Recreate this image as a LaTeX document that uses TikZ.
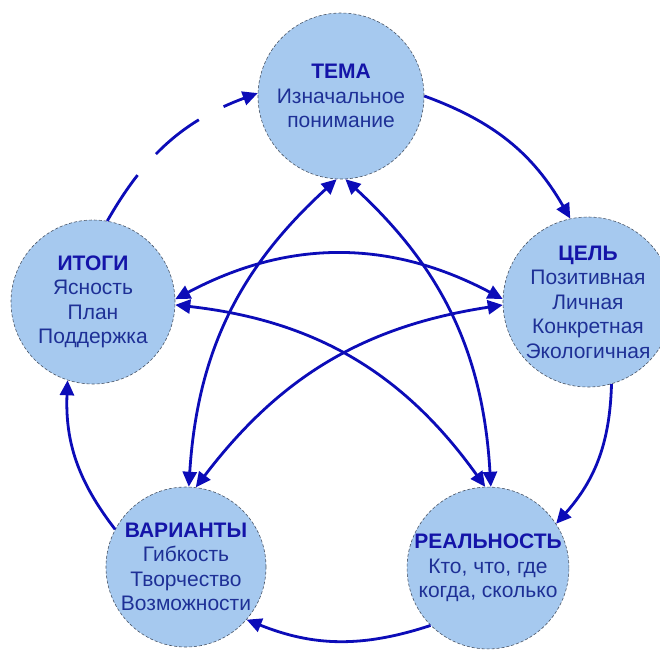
\documentclass[tikz,border=0pt]{standalone}
\usepackage{fontspec}
\setmainfont{Liberation Sans}
\usetikzlibrary{arrows.meta}
\definecolor{lineblue}{HTML}{0C0CB8}
\definecolor{headblue}{HTML}{1414A8}
\definecolor{bodyblue}{HTML}{1E3096}
\definecolor{bubfill}{HTML}{A6C9EF}
\definecolor{bubedge}{HTML}{4A5566}
\begin{document}
\begin{tikzpicture}[x=1pt,y=-1pt,
  bub/.style={circle, fill=bubfill, draw=bubedge, densely dashed, line width=0.6pt,
    inner sep=0pt, align=center, text=bodyblue, font=\fontsize{21}{24.5}\selectfont},
  tip/.tip={Triangle[length=15pt,width=14pt]},
  link/.style={draw=lineblue, line width=2.8pt, -tip},
  both/.style={draw=lineblue, line width=2.8pt, tip-tip}]
\useasboundingbox (0,0) rectangle (660,649);
\fill[white] (0,0) rectangle (660,649);

\node[bub, minimum size=166pt] (tema) at (341,96)
  {{\bfseries\color{headblue}ТЕМА}\\Изначальное\\понимание};
\node[bub, minimum size=170pt] (cel) at (588,302)
  {{\bfseries\color{headblue}ЦЕЛЬ}\\Позитивная\\Личная\\Конкретная\\Экологичная};
\node[bub, minimum size=164pt] (itogi) at (93,302)
  {{\bfseries\color{headblue}ИТОГИ}\\Ясность\\План\\Поддержка};
\node[bub, minimum size=160pt] (var) at (186,567)
  {{\bfseries\color{headblue}ВАРИАНТЫ}\\Гибкость\\Творчество\\Возможности};
\node[bub, minimum size=158pt] (real) at (488,568)
  {{\bfseries\color{headblue}РЕАЛЬНОСТЬ}\\Кто, что, где\\когда, сколько};

% outer cycle
\draw[link] (tema.0) to[bend left=20] (cel.102);
\draw[link] (cel.-74) to[bend left=20] (real.33);
\draw[link] (real.-135) to[bend left=20] (var.-41);
\draw[link] (var.152) to[bend left=20] (itogi.-108);
\draw[link, dash pattern=on 55pt off 28pt] (itogi.80) to[bend left=20] (tema.178);

% inner crossings
\draw[both] (itogi.2) to[bend left=28] (cel.178);
\draw[both] (itogi.-2) to[bend left=24] (real.92);
\draw[both] (cel.182) to[bend right=22] (var.83);
\draw[both] (tema.-93) to[bend right=22] (var.88);
\draw[both] (tema.-87) to[bend left=22] (real.88);
\end{tikzpicture}
\end{document}
